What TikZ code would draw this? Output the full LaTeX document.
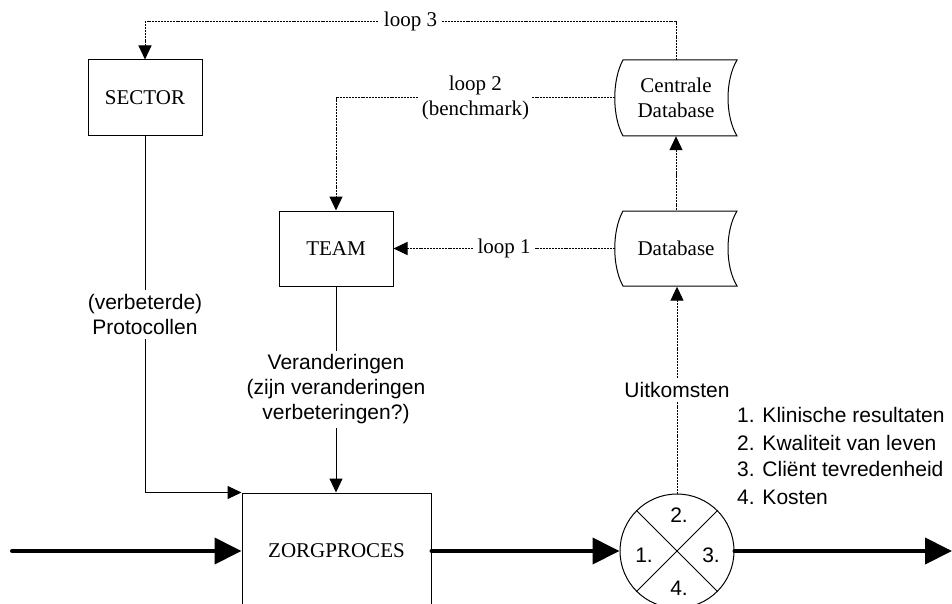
\documentclass[tikz,border=0pt]{standalone}
\usepackage{fontspec}
\setmainfont{Liberation Serif}
\setsansfont{Liberation Sans}
\usetikzlibrary{arrows.meta}
\begin{document}
\begin{tikzpicture}[x=1pt,y=-1pt,
  serif21/.style={font=\fontsize{21}{25}\selectfont},
  sans21/.style={font=\sffamily\fontsize{21}{25}\selectfont},
  box/.style={draw,line width=1pt,inner sep=0pt,serif21},
  dbbox/.style={minimum width=122pt,minimum height=76pt,inner sep=0pt,align=center,serif21},
  dotline/.style={line width=1pt,dash pattern=on 2pt off 0.9pt},
  thinline/.style={line width=1pt},
  sarrow/.style={-{Triangle[length=14pt,width=13pt]}},
  bigarrow/.style={line width=4pt,line cap=round,-{Triangle[length=27pt,width=26pt]}},
  lbl/.style={fill=white,inner xsep=5pt,inner ysep=3pt,align=center,serif21},
  slbl/.style={fill=white,inner sep=4pt,align=center,sans21},
  numlbl/.style={inner sep=0pt,sans21},
  listlbl/.style={anchor=west,inner sep=0pt,sans21}
]
\useasboundingbox (0,0) rectangle (952,604);
\clip (0,0) rectangle (952,604);

% nodes
\node[box,minimum width=114pt,minimum height=76pt] (sector) at (145,98) {SECTOR};
\node[box,minimum width=114pt,minimum height=75pt] (team) at (336,248.5) {TEAM};
\node[box,minimum width=189pt,minimum height=116pt] (zorg) at (336.5,551) {ZORGPROCES};
\node[dbbox] (cdb) at (676,98) {Centrale\\Database};
\node[dbbox] (db) at (676,248.5) {Database};
\node[draw,thinline,circle,minimum size=114pt,inner sep=0pt] (uit) at (677,551) {};

% database shapes
\draw[thinline,shift={(cdb.center)}] (-53,-38) -- (61,-38)
  .. controls (49,-18) and (49,18) .. (61,38) -- (-53,38)
  .. controls (-64,18) and (-64,-18) .. (-53,-38) -- cycle;
\draw[thinline,shift={(db.center)}] (-53,-37.5) -- (61,-37.5)
  .. controls (49,-18) and (49,18) .. (61,37.5) -- (-53,37.5)
  .. controls (-64,18) and (-64,-18) .. (-53,-37.5) -- cycle;

% circle cross and numbers
\draw[thinline] (uit.45) -- (uit.225);
\draw[thinline] (uit.135) -- (uit.315);
\node[numlbl] (n2) at (679,515) {2.};
\node[numlbl] (n4) at (679,588) {4.};
\node[numlbl] (n1) at (644,555) {1.};
\node[numlbl] (n3) at (711,555) {3.};

% list
\node[listlbl] (l1) at (737,415) {1. Klinische resultaten};
\node[listlbl] (l2) at (737,443) {2. Kwaliteit van leven};
\node[listlbl] (l3) at (737,469) {3. Cliënt tevredenheid};
\node[listlbl] (l4) at (737,497) {4. Kosten};

% coordinates for thick flow
\coordinate (in) at (12,551);
\coordinate (out) at (952,551);

% loops
\draw[dotline,sarrow] (cdb.north) -- ++(0,-38) -| (sector.north)
  node[pos=0.25,lbl] {loop 3};
\draw[dotline,sarrow] (cdb.west) -| (team.north)
  node[pos=0.25,lbl,inner xsep=3pt] {loop 2\\(benchmark)};
\draw[dotline,sarrow] (db.west) -- (team.east)
  node[midway,lbl,inner xsep=4pt] {loop 1};
\draw[dotline,sarrow] (db.north) -- (cdb.south);
\draw[dotline,sarrow] (uit.north) -- (uit.north |- db.south)
  node[midway,slbl] {Uitkomsten};

% solid thin connectors
\draw[thinline,sarrow] (sector.south) |- (zorg.north west)
  node[pos=0.25,slbl] {(verbeterde)\\Protocollen};
\draw[thinline,sarrow] (team.south) -- (team.south |- zorg.north)
  node[midway,slbl] {Veranderingen\\(zijn veranderingen\\verbeteringen?)};

% thick flow
\draw[bigarrow] (in) -- (zorg.west);
\draw[bigarrow] (zorg.east) -- (uit.west);
\draw[bigarrow] (uit.east) -- (out);
\end{tikzpicture}
\end{document}
